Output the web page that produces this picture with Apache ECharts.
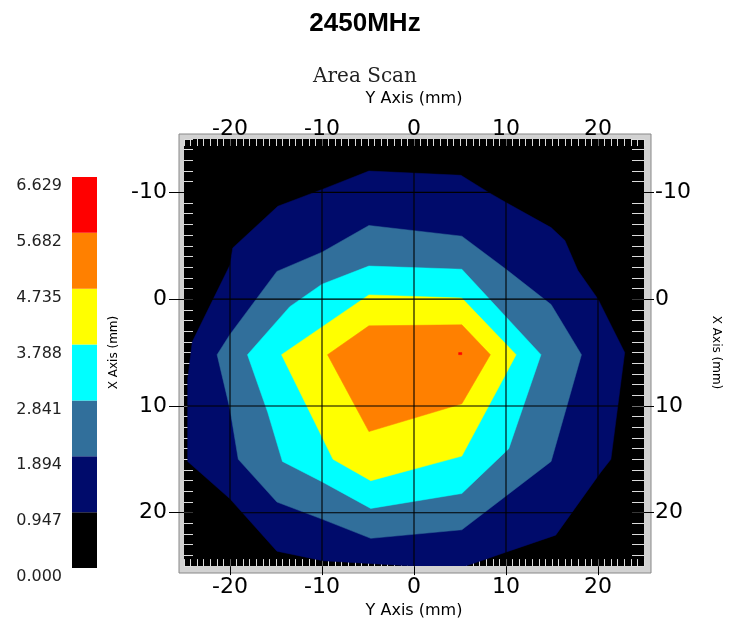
<!DOCTYPE html>
<html>
<head>
<meta charset="utf-8">
<title>2450MHz Area Scan</title>
<script src="https://cdn.jsdelivr.net/npm/echarts@6/dist/echarts.min.js"></script>
<style>
  html, body { margin: 0; padding: 0; background: #fff; }
  #chart { width: 730px; height: 624px; }
</style>
</head>
<body>
<div id="chart"></div>
<script>
// tick labels (mm)
var xTicks = [-20, -10, 0, 10, 20];
var yTicks = [-10, 0, 10, 20];
// colour bar levels
var levels = [0.000, 0.947, 1.894, 2.841, 3.788, 4.735, 5.682, 6.629];

// contour outlines, [Y axis mm, X axis mm]
// >= 0.947
var contour1 = [[-4.9, -12.0], [5.1, -11.6], [8.1, -10.0], [9.9, -9.1], [14.9, -6.7], [16.4, -5.5],
  [17.8, -2.7], [20.0, 0.0], [22.9, 5.0], [21.4, 15.0], [20.3, 16.2], [15.4, 22.1], [10.3, 23.6],
  [5.6, 25.0], [0, 25.0], [-9.9, 24.5], [-14.9, 23.6], [-20.0, 18.7], [-24.6, 15.2], [-24.6, 7.5],
  [-24.1, 4.0], [-20.0, -3.2], [-19.7, -4.8], [-14.8, -8.7], [-9.9, -10.3]];
// >= 1.894
var contour2 = [[-4.9, -6.9], [5.2, -5.9], [10.0, -2.8], [14.9, 0.5], [18.2, 5.2], [14.9, 15.2],
  [5.2, 21.6], [-4.7, 22.4], [-10.0, 20.6], [-14.9, 19.0], [-19.1, 15.0], [-20.0, 10.3],
  [-21.4, 5.2], [-20.0, 3.3], [-14.9, -2.6], [-10.0, -4.4]];
// >= 2.841
var contour3 = [[-4.9, -3.1], [5.2, -2.8], [13.8, 5.2], [10.3, 14.0], [5.2, 18.2], [-4.7, 19.6],
  [-10.0, 17.1], [-14.3, 15.2], [-15.9, 10.6], [-18.1, 5.2], [-13.5, 0.7], [-10.0, -1.4]];
// >= 3.788
var contour4 = [[-4.9, -0.4], [5.2, -0.1], [11.1, 5.2], [5.2, 14.7], [-4.7, 17.0], [-8.8, 15.0],
  [-14.4, 5.2]];
// >= 4.735
var contour5 = [[-4.9, 2.5], [5.2, 2.4], [8.3, 5.2], [5.2, 9.8], [-4.9, 12.4], [-9.4, 5.2]];
// >= 5.682 (peak spot)
var contour6 = [[4.85, 5.0], [5.2, 5.0], [5.2, 5.2], [4.85, 5.2]];

var xMin = -25, xMax = 25, yMin = -15, yMax = 25;
var levelColors = ['#000000', '#000b6b', '#316f9b', '#00ffff', '#ffff00', '#ff8000', '#ff0000'];
var contours = [contour1, contour2, contour3, contour4, contour5, contour6];

var chart = echarts.init(document.getElementById('chart'));

function contourSeries(poly, color) {
  return {
    type: 'custom',
    xAxisIndex: 0,
    yAxisIndex: 0,
    clip: true,
    silent: true,
    data: [[0, 0]],
    renderItem: function (params, api) {
      return {
        type: 'polygon',
        shape: { points: poly.map(function (p) { return api.coord(p); }) },
        style: { fill: color, stroke: color, lineWidth: 0.5 }
      };
    }
  };
}

var series = [];
contours.forEach(function (poly, i) {
  series.push(contourSeries(poly, levelColors[i + 1]));
});

// grid lines on top of the contours
series.push({
  type: 'custom',
  xAxisIndex: 0,
  yAxisIndex: 0,
  clip: true,
  silent: true,
  data: [[0, 0]],
  renderItem: function (params, api) {
    var kids = [];
    xTicks.forEach(function (v) {
      var a = api.coord([v, yMin]), b = api.coord([v, yMax]);
      kids.push({ type: 'line', shape: { x1: a[0], y1: a[1], x2: b[0], y2: b[1] },
        style: { stroke: '#000', lineWidth: 1.1 } });
    });
    yTicks.forEach(function (v) {
      var a = api.coord([xMin, v]), b = api.coord([xMax, v]);
      kids.push({ type: 'line', shape: { x1: a[0], y1: a[1], x2: b[0], y2: b[1] },
        style: { stroke: '#000', lineWidth: 1.1 } });
    });
    return { type: 'group', children: kids };
  }
});

// colour bar as a stack of bands
for (var i = 0; i < levels.length - 1; i++) {
  series.push({
    type: 'bar',
    xAxisIndex: 4,
    yAxisIndex: 4,
    stack: 'cb',
    barWidth: '100%',
    silent: true,
    data: [levels[i + 1] - levels[i]],
    itemStyle: { color: levelColors[i] }
  });
}

var tickFont = { fontFamily: 'DejaVu Sans', fontSize: 22, color: '#000' };
var noLine = { show: false, onZero: false };

function innerX(pos) {
  return {
    gridIndex: 1, type: 'value', position: pos, min: xMin, max: xMax, interval: 5 / 7,
    axisLine: noLine,
    axisTick: { inside: true, length: 7, lineStyle: { color: '#dcdcdc', width: 1 } },
    axisLabel: { show: false }, splitLine: { show: false }
  };
}
function innerY(pos, len) {
  return {
    gridIndex: 1, type: 'value', position: pos, inverse: true, min: yMin, max: yMax, interval: 1,
    axisLine: noLine,
    axisTick: { inside: true, length: len, lineStyle: { color: '#dcdcdc', width: 1 } },
    axisLabel: { show: false }, splitLine: { show: false }
  };
}

var option = {
  animation: false,
  backgroundColor: '#fff',
  title: [
    {
      text: '2450MHz', left: 'center', top: 6,
      textStyle: { fontFamily: 'Liberation Sans', fontWeight: 'bold', fontSize: 26, color: '#000' }
    },
    {
      text: 'Area Scan', left: 'center', top: 62,
      textStyle: { fontFamily: 'DejaVu Serif', fontWeight: 'normal', fontSize: 20, color: '#222' }
    }
  ],
  grid: [
    // grey frame
    { left: 179, top: 134, right: 79, bottom: 51, show: true, backgroundColor: '#d2d2d2',
      borderColor: '#888', borderWidth: 1 },
    // scan area
    { left: 184, top: 139, right: 84, bottom: 56, show: true, backgroundColor: '#000',
      borderWidth: 0 },
    // colour bar
    { left: 72, top: 177, width: 25, height: 391 }
  ],
  xAxis: [
    {
      gridIndex: 1, type: 'value', position: 'bottom', min: xMin, max: xMax,
      axisLine: noLine,
      axisTick: { customValues: xTicks, length: 9, lineStyle: { color: '#000' } },
      axisLabel: Object.assign({ customValues: xTicks, margin: 10 }, tickFont),
      splitLine: { show: false },
      name: 'Y Axis (mm)', nameLocation: 'middle', nameGap: 34,
      nameTextStyle: { fontFamily: 'DejaVu Sans', fontSize: 16, color: '#000' }
    },
    {
      gridIndex: 1, type: 'value', position: 'top', min: xMin, max: xMax,
      axisLine: noLine,
      axisTick: { show: false },
      axisLabel: Object.assign({ customValues: xTicks, margin: -1 }, tickFont),
      splitLine: { show: false },
      name: 'Y Axis (mm)', nameLocation: 'middle', nameGap: 32,
      nameTextStyle: { fontFamily: 'DejaVu Sans', fontSize: 16, color: '#000' }
    },
    innerX('bottom'),
    innerX('top'),
    {
      gridIndex: 2, type: 'category', data: [''], show: false
    }
  ],
  yAxis: [
    {
      gridIndex: 1, type: 'value', position: 'left', inverse: true, min: yMin, max: yMax,
      axisLine: noLine,
      axisTick: { customValues: yTicks, length: 15, lineStyle: { color: '#000' } },
      axisLabel: Object.assign({ customValues: yTicks, margin: 17 }, tickFont),
      splitLine: { show: false },
      name: 'X Axis (mm)', nameLocation: 'middle', nameGap: 64, nameRotate: 90,
      nameTextStyle: { fontFamily: 'DejaVu Sans', fontSize: 12, color: '#000' }
    },
    {
      gridIndex: 1, type: 'value', position: 'right', inverse: true, min: yMin, max: yMax,
      axisLine: noLine,
      axisTick: { customValues: yTicks, length: 10, lineStyle: { color: '#000' } },
      axisLabel: Object.assign({ customValues: yTicks, margin: 11 }, tickFont),
      splitLine: { show: false },
      name: 'X Axis (mm)', nameLocation: 'middle', nameGap: 66, nameRotate: -90,
      nameTextStyle: { fontFamily: 'DejaVu Sans', fontSize: 12, color: '#000' }
    },
    innerY('left', 9),
    innerY('right', 12),
    {
      gridIndex: 2, type: 'value', position: 'left', min: 0, max: levels[levels.length - 1],
      interval: levels[1],
      axisLine: { show: false }, axisTick: { show: false }, splitLine: { show: false },
      axisLabel: {
        margin: 10, verticalAlign: 'top', padding: [1, 0, 0, 0],
        fontFamily: 'DejaVu Sans', fontSize: 16, color: '#222',
        formatter: function (v) { return v.toFixed(3); }
      }
    }
  ],
  series: series
};

chart.setOption(option);
</script>
</body>
</html>
